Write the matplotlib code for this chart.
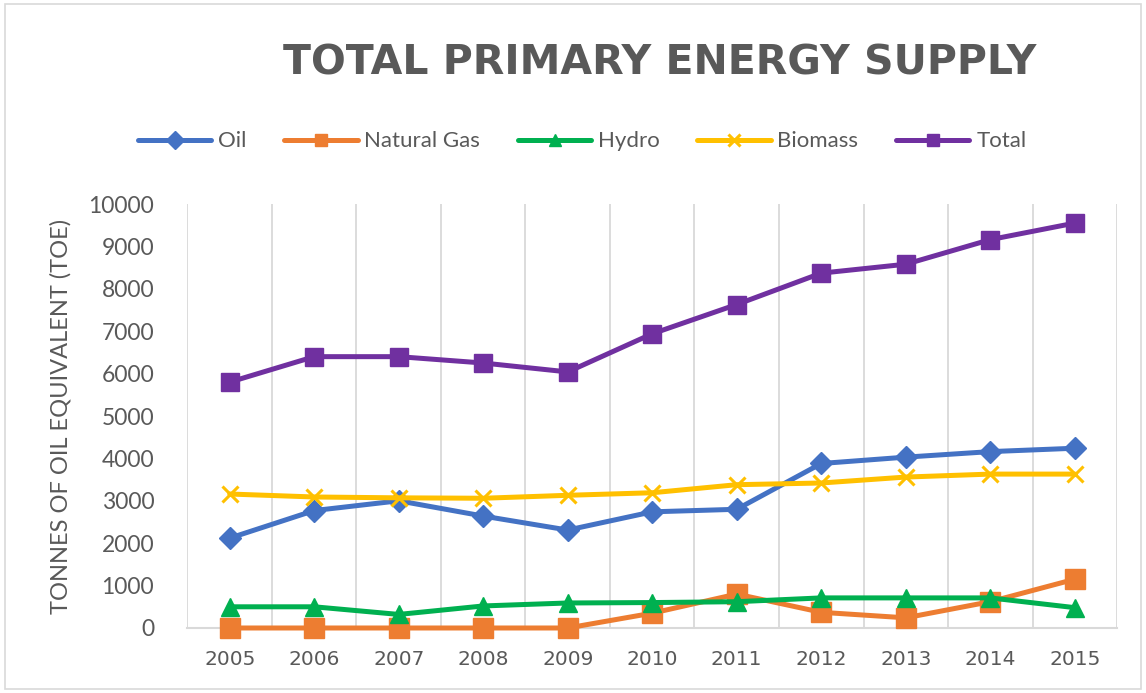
import matplotlib
matplotlib.use("Agg")
import matplotlib.pyplot as plt
from matplotlib.patches import Rectangle

years = [2005, 2006, 2007, 2008, 2009, 2010, 2011, 2012, 2013, 2014, 2015]
oil = [2120, 2770, 3000, 2640, 2310, 2740, 2800, 3880, 4030, 4160, 4240]
natural_gas = [0, 0, 0, 0, 0, 350, 800, 370, 240, 620, 1150]
hydro = [500, 500, 320, 520, 590, 600, 620, 710, 710, 710, 480]
biomass = [3160, 3090, 3070, 3060, 3130, 3190, 3380, 3420, 3560, 3630, 3630]
total = [5800, 6400, 6400, 6250, 6040, 6940, 7630, 8370, 8580, 9160, 9550]

series = [
    ("Oil", oil, "#4472C4", "D", 11),
    ("Natural Gas", natural_gas, "#ED7D31", "s", 14),
    ("Hydro", hydro, "#00B050", "^", 12.5),
    ("Biomass", biomass, "#FFC000", "x", 12),
    ("Total", total, "#7030A0", "s", 12.5),
]

plt.rcParams['font.family'] = ['Lato', 'DejaVu Sans']
fig = plt.figure(figsize=(11.46, 6.93), dpi=100)
ax = fig.add_axes([0.1636, 0.0938, 0.8111, 0.6118])

for name, vals, col, mk, ms in series:
    ax.plot(years, vals, color=col, lw=3.6, marker=mk, ms=ms,
            mew=2.2 if mk == "x" else 1, mec=col, mfc=col, label=name,
            solid_joinstyle="round", solid_capstyle="round", zorder=3,
            clip_on=False)

ax.set_xlim(2004.5, 2015.5)
ax.set_ylim(0, 10000)
ax.set_yticks(range(0, 10001, 1000))
ax.set_xticks(years)
ax.set_xticklabels([str(y) for y in years])

# vertical gridlines between categories
for b in [y + 0.5 for y in [2004] + years]:
    ax.axvline(b, color="#D9D9D9", lw=1.3, zorder=1)

for s in ["top", "right", "left"]:
    ax.spines[s].set_visible(False)
ax.spines["bottom"].set_color("#D9D9D9")
ax.spines["bottom"].set_linewidth(1.5)
ax.spines["bottom"].set_zorder(1)
ax.tick_params(axis="both", length=0, colors="#595959")
ax.tick_params(axis="x", pad=16)
ax.tick_params(axis="y", labelsize=16.5, pad=24)
for t in ax.get_xticklabels():
    t.set_fontfamily(["DejaVu Sans"])
    t.set_fontsize(14.5)

ax.set_ylabel("TONNES OF OIL EQUIVALENT (TOE)", fontsize=17, color="#595959", labelpad=12)

fig.text(0.576, 0.909, "TOTAL PRIMARY ENERGY SUPPLY", ha="center", va="center",
         fontsize=29.5, fontweight="bold", color="#595959", family=["DejaVu Sans"])

leg = fig.legend(loc="center", bbox_to_anchor=(0.508, 0.796), ncol=5, frameon=False,
                 fontsize=16, handlelength=3.3, columnspacing=1.7, handletextpad=0.3,
                 labelcolor="#595959")
for h in leg.legend_handles:
    h.set_markersize(9)

fig.patches.append(Rectangle((0.004, 0.006), 0.992, 0.988, transform=fig.transFigure,
                             fill=False, edgecolor="#D9D9D9", lw=1.2))

fig.savefig("out.png", dpi=100, facecolor="white")
